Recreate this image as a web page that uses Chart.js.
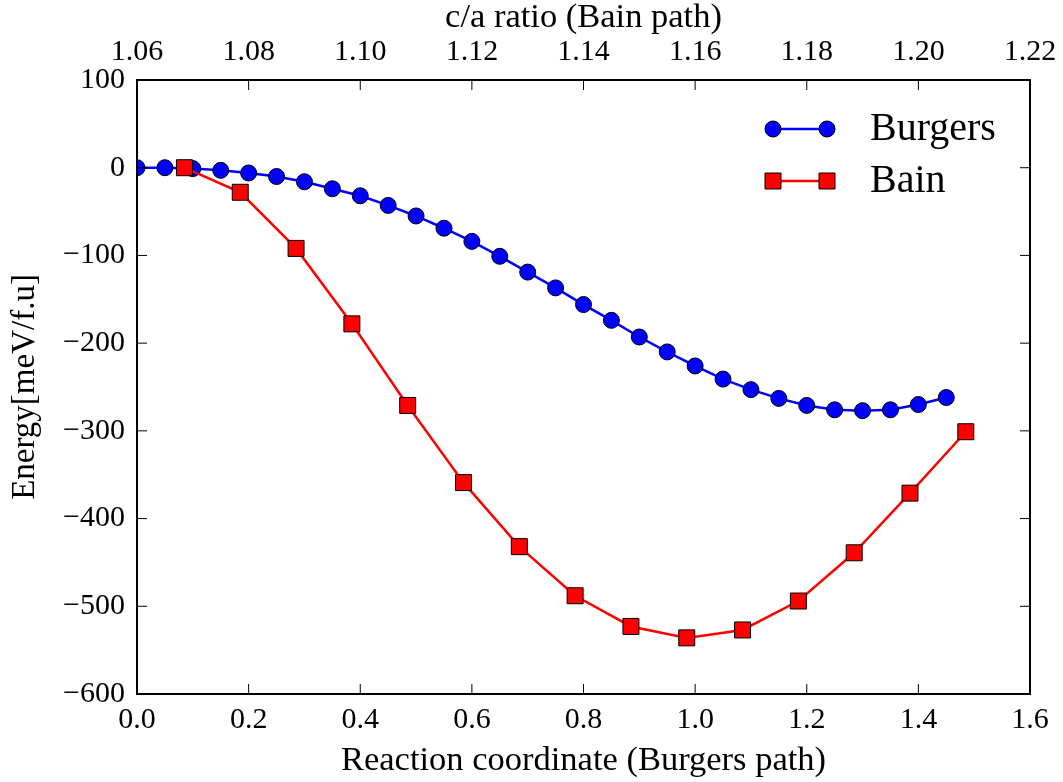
<!DOCTYPE html>
<html>
<head>
<meta charset="utf-8">
<title>Burgers vs Bain path</title>
<script src="https://cdn.jsdelivr.net/npm/chart.js@4.4.1/dist/chart.umd.min.js"></script>
<style>
    html, body { margin: 0; padding: 0; background: #ffffff; }
    #canvas { display: block; }
</style>
</head>
<body>
<canvas id="canvas" width="1063" height="782"></canvas>
<script>
// Burgers path: reaction coordinate (bottom axis)
const burgersX = [0.00, 0.05, 0.10, 0.15, 0.20, 0.25, 0.30, 0.35, 0.40, 0.45,
                  0.50, 0.55, 0.60, 0.65, 0.70, 0.75, 0.80, 0.85, 0.90, 0.95,
                  1.00, 1.05, 1.10, 1.15, 1.20, 1.25, 1.30, 1.35, 1.40, 1.45];
const burgersE = [0, 0, -1, -3, -6, -10, -16, -24, -32, -43,
                  -55, -69, -84, -101, -119, -137, -156, -174, -193, -210,
                  -226, -241, -253, -263, -271, -276, -277, -276, -270, -262];

// Bain path: c/a ratio (top axis)
const bainX = [1.0685, 1.0785, 1.0885, 1.0985, 1.1085, 1.1185, 1.1285, 1.1385,
               1.1485, 1.1585, 1.1685, 1.1785, 1.1885, 1.1985, 1.2085];
const bainE = [0, -28, -92, -178, -271, -359, -432, -488,
               -523, -536, -527, -494, -439, -371, -301];

const yTicks = [-600, -500, -400, -300, -200, -100, 0, 100];

const seriesNames = ['Burgers', 'Bain'];
const fontName = "'Liberation Serif', 'Times New Roman', serif";

function toPoints(xs, ys) {
    let pts = [];
    for (let i = 0; i < xs.length; ++i) {
        pts.push({x: xs[i], y: ys[i]});
    }
    return pts;
}

function minusSign(v) {
    return String(v).replace('-', '\u2212');
}

// frame, inward ticks and the legend (matplotlib look)
const framePlugin = {
    id: 'frame',
    afterDraw(chart) {
        const c = chart.ctx;
        const a = chart.chartArea;
        const tl = 10;
        c.save();
        c.strokeStyle = '#000000';
        c.lineWidth = 1;
        c.beginPath();
        chart.scales.x.ticks.forEach(t => {
            const px = chart.scales.x.getPixelForValue(t.value);
            c.moveTo(px, a.bottom); c.lineTo(px, a.bottom - tl);
        });
        chart.scales.x2.ticks.forEach(t => {
            const px = chart.scales.x2.getPixelForValue(t.value);
            c.moveTo(px, a.top); c.lineTo(px, a.top + tl);
        });
        chart.scales.y.ticks.forEach(t => {
            const py = chart.scales.y.getPixelForValue(t.value);
            c.moveTo(a.left, py); c.lineTo(a.left + tl, py);
            c.moveTo(a.right, py); c.lineTo(a.right - tl, py);
        });
        c.stroke();

        c.lineWidth = 2;
        c.strokeRect(a.left, a.top, a.right - a.left, a.bottom - a.top);

        // legend
        const items = [chart.data.datasets[1], chart.data.datasets[0]];
        const x0 = 773, x1 = 827, textX = 870;
        const rowY = [129, 181];
        items.forEach((ds, i) => {
            const y = rowY[i];
            c.strokeStyle = ds.borderColor;
            c.lineWidth = ds.borderWidth;
            c.beginPath();
            c.moveTo(x0, y); c.lineTo(x1, y);
            c.stroke();
            c.fillStyle = ds.pointBackgroundColor;
            c.strokeStyle = ds.pointBorderColor;
            c.lineWidth = ds.pointBorderWidth;
            const opts = {pointStyle: ds.pointStyle, radius: ds.pointRadius, rotation: 0, borderWidth: ds.pointBorderWidth};
            Chart.helpers.drawPoint(c, opts, x0, y);
            Chart.helpers.drawPoint(c, opts, x1, y);
            c.fillStyle = '#000000';
            c.font = '40px ' + fontName;
            c.textBaseline = 'middle';
            c.textAlign = 'left';
            c.fillText(ds.label, textX, y);
        });
        c.restore();
    }
};

function showLineChart() {
    const ctx = document.getElementById('canvas').getContext('2d');
    const tickFont = {family: fontName, size: 30};
    const titleFont = {family: fontName, size: 34.5};
    const yTitleFont = {family: fontName, size: 33};
    const myChart = new Chart(ctx, {
        type: 'line',
        data: {
            datasets: [{
                label: seriesNames[1],
                data: toPoints(bainX, bainE),
                xAxisID: 'x2',
                yAxisID: 'y',
                order: 0,
                borderColor: '#ff0000',
                borderWidth: 2.5,
                pointStyle: 'rect',
                pointRadius: 11.3,
                pointBackgroundColor: '#ff0000',
                pointBorderColor: '#000000',
                pointBorderWidth: 1,
                tension: 0,
                fill: false,
                clip: 0
            }, {
                label: seriesNames[0],
                data: toPoints(burgersX, burgersE),
                xAxisID: 'x',
                yAxisID: 'y',
                order: 1,
                borderColor: '#0000ff',
                borderWidth: 2.5,
                pointStyle: 'circle',
                pointRadius: 8,
                pointBackgroundColor: '#0000ff',
                pointBorderColor: '#000000',
                pointBorderWidth: 1,
                tension: 0,
                fill: false,
                clip: 0
            }]
        },
        options: {
            responsive: false,
            animation: false,
            devicePixelRatio: 1,
            layout: { padding: {left: 0, right: 33, top: 0, bottom: 0} },
            plugins: {
                legend: { display: false },
                tooltip: { enabled: false }
            },
            scales: {
                x: {
                    type: 'linear',
                    position: 'bottom',
                    min: 0, max: 1.6,
                    grid: { display: false },
                    border: { display: false },
                    ticks: {
                        stepSize: 0.2,
                        color: '#000000',
                        font: tickFont,
                        padding: 0,
                        maxRotation: 0,
                        callback: function (value) { return value.toFixed(1); }
                    },
                    title: {
                        display: true,
                        text: 'Reaction coordinate (Burgers path)',
                        color: '#000000',
                        font: titleFont,
                        padding: {top: 0, bottom: 0}
                    },
                    afterFit: function (scale) { scale.height = 88; }
                },
                x2: {
                    type: 'linear',
                    position: 'top',
                    min: 1.06, max: 1.22,
                    grid: { display: false },
                    border: { display: false },
                    ticks: {
                        stepSize: 0.02,
                        color: '#000000',
                        font: tickFont,
                        padding: 2,
                        maxRotation: 0,
                        callback: function (value) { return value.toFixed(2); }
                    },
                    title: {
                        display: true,
                        text: 'c/a ratio (Bain path)',
                        color: '#000000',
                        font: titleFont,
                        padding: {top: -3, bottom: 0}
                    },
                    afterFit: function (scale) { scale.height = 80; }
                },
                y: {
                    type: 'linear',
                    position: 'left',
                    min: yTicks[0], max: yTicks[yTicks.length - 1],
                    grid: { display: false },
                    border: { display: false },
                    ticks: {
                        stepSize: 100,
                        color: '#000000',
                        font: tickFont,
                        padding: 4,
                        callback: function (value) { return minusSign(value); }
                    },
                    title: {
                        display: true,
                        text: 'Energy[meV/f.u]',
                        color: '#000000',
                        font: yTitleFont,
                        padding: {top: 6, bottom: 0}
                    },
                    afterFit: function (scale) { scale.width = 137; }
                }
            }
        },
        plugins: [framePlugin]
    });
}

showLineChart();
</script>
</body>
</html>
